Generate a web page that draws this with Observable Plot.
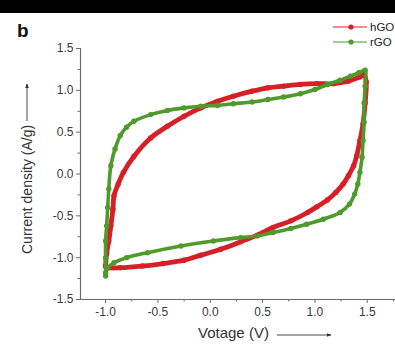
<!DOCTYPE html>
<html>
<head>
<meta charset="utf-8">
<script src="https://cdn.jsdelivr.net/npm/d3@7"></script>
<script src="https://cdn.jsdelivr.net/npm/@observablehq/plot@0.6"></script>
<style>
  html, body { margin: 0; padding: 0; background: #fff; }
  #chart { width: 395px; height: 348px; overflow: hidden; }
  svg { display: block; }
</style>
</head>
<body>
<div id="chart"></div>
<script>
// ---- data ----
const seriesNames = ["hGO", "rGO"];
const seriesColors = ["#d61f26", "#4e9a2b"];

const xTicks = [-1.0, -0.5, 0.0, 0.5, 1.0, 1.5];
const xMinor = [-0.75, -0.25, 0.25, 0.75, 1.25, 1.75];
const yTicks = [-1.5, -1.0, -0.5, 0.0, 0.5, 1.0, 1.5];
const yMinor = [-1.25, -0.75, -0.25, 0.25, 0.75, 1.25];

// hGO cyclic voltammogram (voltage V, current density A/g), in sweep order
const hgoV = [-1.00, -0.99, -0.97, -0.95, -0.93, -0.92, -0.88, -0.83, -0.73, -0.57, -0.41, -0.25, -0.09, 0.07, 0.22, 0.40, 0.55, 0.70, 0.86, 1.02, 1.18, 1.32, 1.43, 1.47,
              1.49, 1.48, 1.46, 1.43, 1.40, 1.37, 1.32, 1.27, 1.20, 1.12, 1.02, 0.93, 0.77, 0.60, 0.45, 0.29, 0.10, -0.09, -0.25, -0.45, -0.65, -0.86, -0.97, -1.00];
const hgoJ = [-1.10, -0.95, -0.80, -0.62, -0.42, -0.26, -0.12, 0.02, 0.21, 0.43, 0.57, 0.69, 0.79, 0.87, 0.93, 0.99, 1.03, 1.05, 1.07, 1.08, 1.08, 1.11, 1.16, 1.19,
              1.10, 0.85, 0.60, 0.40, 0.22, 0.10, -0.02, -0.12, -0.22, -0.31, -0.39, -0.46, -0.56, -0.64, -0.73, -0.81, -0.90, -0.97, -1.03, -1.07, -1.10, -1.12, -1.12, -1.10];

// rGO cyclic voltammogram
const rgoV = [-1.00, -1.00, -1.00, -0.99, -0.98, -0.97, -0.95, -0.91, -0.86, -0.80, -0.73, -0.57, -0.41, -0.25, -0.09, 0.07, 0.22, 0.40, 0.55, 0.70, 0.86, 1.00, 1.12, 1.24, 1.34, 1.42, 1.48,
              1.48, 1.47, 1.47, 1.46, 1.45, 1.43, 1.41, 1.38, 1.33, 1.24, 1.08, 0.92, 0.77, 0.60, 0.45, 0.29, 0.03, -0.28, -0.60, -0.80, -0.92, -0.98, -1.00];
const rgoJ = [-1.22, -1.00, -0.80, -0.62, -0.40, -0.18, 0.10, 0.30, 0.46, 0.56, 0.63, 0.71, 0.76, 0.79, 0.81, 0.82, 0.84, 0.86, 0.89, 0.92, 0.96, 1.01, 1.07, 1.12, 1.17, 1.21, 1.24,
              1.05, 0.85, 0.62, 0.40, 0.20, 0.02, -0.12, -0.24, -0.36, -0.46, -0.54, -0.60, -0.65, -0.70, -0.74, -0.76, -0.80, -0.86, -0.94, -1.00, -1.06, -1.12, -1.18];

// ---- build tables ----
const hgo = hgoV.map((v, i) => ({v, j: hgoJ[i]}));
const rgo = rgoV.map((v, i) => ({v, j: rgoJ[i]}));

const xDomain = [-1.24, 1.77];
const yDomain = [-1.5, 1.5];
const axisColor = "#6b6b6b";
const fmt = d => d.toFixed(1);

const svg = Plot.plot({
  width: 395,
  height: 348,
  marginLeft: 80,
  marginRight: 0,
  marginTop: 48,
  marginBottom: 49,
  x: {domain: xDomain},
  y: {domain: yDomain},
  style: {fontFamily: "'Liberation Sans', Arial, sans-serif", fontSize: "12px", color: "#3a3a3a", background: "white"},
  marks: [
    Plot.ruleY([yDomain[0]], {stroke: axisColor, strokeWidth: 1.2}),
    Plot.ruleX([xDomain[0]], {stroke: axisColor, strokeWidth: 1.2}),
    Plot.axisX({ticks: xTicks, tickSize: 4, tickPadding: 4, tickFormat: fmt, label: null, stroke: axisColor}),
    Plot.axisX({ticks: xMinor, tickSize: 2.5, tickFormat: () => "", label: null, stroke: axisColor}),
    Plot.axisY({ticks: yTicks, tickSize: 4, tickPadding: 3, tickFormat: fmt, label: null, stroke: axisColor}),
    Plot.axisY({ticks: yMinor, tickSize: 2.5, tickFormat: () => "", label: null, stroke: axisColor}),
    Plot.line(hgo, {x: "v", y: "j", stroke: seriesColors[0], strokeWidth: 4.8, curve: "catmull-rom"}),
    Plot.dot(hgo, {x: "v", y: "j", r: 2.7, fill: seriesColors[0]}),
    Plot.line(rgo, {x: "v", y: "j", stroke: seriesColors[1], strokeWidth: 3.6, curve: "catmull-rom"}),
    Plot.dot(rgo, {x: "v", y: "j", r: 2.7, fill: seriesColors[1]})
  ]
});

document.getElementById("chart").appendChild(svg);

// ---- decorations: labels, legend, panel letter ----
const s = d3.select(svg);
const defs = s.append("defs");
defs.append("marker")
  .attr("id", "arr").attr("viewBox", "0 0 10 10").attr("refX", 9).attr("refY", 5)
  .attr("markerWidth", 7).attr("markerHeight", 5).attr("orient", "auto")
  .append("path").attr("d", "M0,1 L10,5 L0,9 Z").attr("fill", "#333");

const font = "'Liberation Sans', Arial, sans-serif";

// top black band (photo edge in the reference)
s.append("rect").attr("x", 0).attr("y", 0).attr("width", 395).attr("height", 13).attr("fill", "#000");

// panel letter
s.append("text").attr("x", 17).attr("y", 37).text("b").attr("text-anchor", "start")
  .attr("font-family", font).attr("font-weight", "bold").attr("font-size", 19).attr("fill", "#111");

// x-axis label with arrow
s.append("text").attr("x", 198).attr("y", 338).text("Votage (V)").attr("text-anchor", "start")
  .attr("font-family", font).attr("font-size", 15).attr("fill", "#333");
s.append("line").attr("x1", 277).attr("x2", 331).attr("y1", 335).attr("y2", 335)
  .attr("stroke", "#333").attr("stroke-width", 0.9).attr("marker-end", "url(#arr)");

// y-axis label with arrow
s.append("text").attr("transform", "translate(32,254) rotate(-90)").text("Current density (A/g)")
  .attr("text-anchor", "start")
  .attr("font-family", font).attr("font-size", 14).attr("fill", "#333");
s.append("line").attr("x1", 27).attr("x2", 27).attr("y1", 121).attr("y2", 84)
  .attr("stroke", "#333").attr("stroke-width", 0.9).attr("marker-end", "url(#arr)");

// legend
const legendY = [27, 42];
seriesNames.forEach((name, i) => {
  const g = s.append("g");
  g.append("line").attr("x1", 333).attr("x2", 367).attr("y1", legendY[i]).attr("y2", legendY[i])
    .attr("stroke", seriesColors[i]).attr("stroke-width", 1.2);
  g.append("circle").attr("cx", 351).attr("cy", legendY[i]).attr("r", 2.6).attr("fill", seriesColors[i]);
  g.append("text").attr("x", 370).attr("y", legendY[i] + 4).text(name).attr("text-anchor", "start")
    .attr("font-family", font).attr("font-size", 11.5).attr("fill", "#222");
});
</script>
</body>
</html>
